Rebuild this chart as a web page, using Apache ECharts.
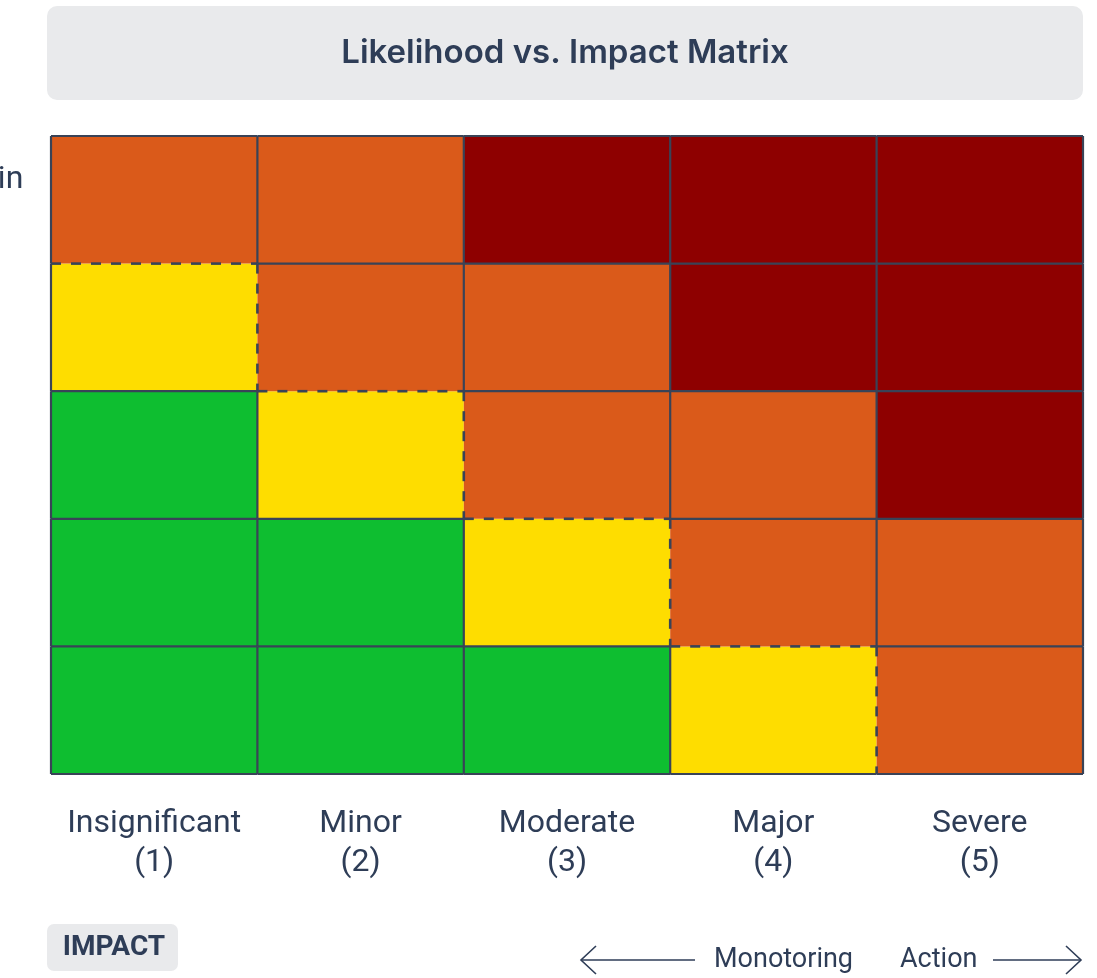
<!DOCTYPE html>
<html>
<head>
<meta charset="utf-8">
<script src="https://cdn.jsdelivr.net/npm/echarts@6/dist/echarts.min.js"></script>
<style>
html,body{margin:0;padding:0;background:#ffffff;}
#chart{width:1097px;height:978px;}
</style>
</head>
<body>
<div id="chart"></div>
<script>
const titleText = 'Likelihood vs. Impact Matrix';
const impactLabels = ['Insignificant\n(1)', 'Minor\n(2)', 'Moderate\n(3)', 'Major\n(4)', 'Severe\n(5)'];
const likelihoodLabels = ['Rare\n(1)', 'Unlikely\n(2)', 'Possible\n(3)', 'Likely\n(4)', 'Almost Certain\n(5)'];
const riskLevels = ['Low', 'Medium', 'High', 'Critical'];
const levelColors = ['#0ebe30', '#fedd00', '#da5a1a', '#8e0000'];
// risk level index per cell, one array per likelihood row (Rare -> Almost Certain)
const rowRare = [0, 0, 0, 1, 2];
const rowUnlikely = [0, 0, 1, 2, 2];
const rowPossible = [0, 1, 2, 2, 3];
const rowLikely = [1, 2, 2, 3, 3];
const rowAlmostCertain = [2, 2, 3, 3, 3];
const axisCaption = 'IMPACT';
const leftArrowText = 'Monotoring';
const rightArrowText = 'Action';

const rows = [rowRare, rowUnlikely, rowPossible, rowLikely, rowAlmostCertain];
const cells = [];
rows.forEach((r, y) => r.forEach((lvl, x) => cells.push([x, y, lvl])));
const levelAt = (x, y) => (rows[y] !== undefined && rows[y][x] !== undefined) ? rows[y][x] : -1;
const DASHED_LEVEL = 1;

const textColor = '#2e3d57';
const borderColor = '#394357';

const chart = echarts.init(document.getElementById('chart'), null, {renderer: 'canvas'});

function edge(x1, y1, x2, y2, dashed) {
  return {
    type: 'line',
    shape: {x1, y1, x2, y2},
    style: {stroke: borderColor, lineWidth: dashed ? 2.6 : 2.2, lineDash: dashed ? [10, 10] : null}
  };
}

chart.setOption({
  animation: false,
  grid: {left: 51, right: 14, top: 136, bottom: 204, containLabel: false, outerBoundsMode: 'none'},
  xAxis: {
    type: 'category',
    data: impactLabels,
    axisLine: {show: false},
    axisTick: {show: false},
    splitLine: {show: false},
    axisLabel: {
      color: textColor, fontFamily: 'Roboto', fontSize: 32, lineHeight: 39,
      margin: 30, align: 'center', interval: 0
    }
  },
  yAxis: {
    type: 'category',
    data: likelihoodLabels,
    axisLine: {show: false},
    axisTick: {show: false},
    splitLine: {show: false},
    axisLabel: {
      color: textColor, fontFamily: 'Roboto', fontSize: 32, lineHeight: 39,
      margin: 134, align: 'center', interval: 0
    }
  },
  series: [
    {
      type: 'custom',
      clip: false,
      z: 2,
      data: cells,
      renderItem: function (params, api) {
        const c = api.coord([api.value(0), api.value(1)]);
        const s = api.size([1, 1]);
        return {
          type: 'rect',
          shape: {x: c[0] - s[0] / 2, y: c[1] - s[1] / 2, width: s[0], height: s[1]},
          style: {fill: levelColors[api.value(2)]}
        };
      }
    },
    {
      type: 'custom',
      clip: false,
      z: 3,
      data: cells,
      renderItem: function (params, api) {
        const x = api.value(0), y = api.value(1);
        const c = api.coord([x, y]);
        const s = api.size([1, 1]);
        const l = c[0] - s[0] / 2, r = c[0] + s[0] / 2, t = c[1] - s[1] / 2, b = c[1] + s[1] / 2;
        const children = [];
        children.push(edge(l, t, l, b, levelAt(x - 1, y) === DASHED_LEVEL));
        children.push(edge(l, b, r, b, levelAt(x, y - 1) === DASHED_LEVEL));
        if (y === rows.length - 1) children.push(edge(l, t, r, t, false));
        if (x === rows[0].length - 1) children.push(edge(r, t, r, b, false));
        return {type: 'group', children};
      }
    }
  ],
  graphic: [
    {
      type: 'rect', left: 47, top: 6,
      shape: {width: 1036, height: 94, r: 10},
      style: {fill: '#e9eaec'}
    },
    {
      type: 'text', x: 565, y: 53,
      style: {
        text: titleText, fill: textColor, font: '600 33px Inter',
        textAlign: 'center', textVerticalAlign: 'middle'
      }
    },
    {
      type: 'rect', left: 47, top: 924,
      shape: {width: 131, height: 47, r: 7},
      style: {fill: '#e9eaec'}
    },
    {
      type: 'text', x: 114, y: 948,
      style: {
        text: axisCaption, fill: textColor, font: 'bold 28px Roboto',
        textAlign: 'center', textVerticalAlign: 'middle'
      }
    },
    {
      type: 'line', shape: {x1: 581, y1: 960, x2: 695, y2: 960},
      style: {stroke: textColor, lineWidth: 1.6}
    },
    {
      type: 'polyline', shape: {points: [[596, 946], [581, 960], [596, 974]]},
      style: {stroke: textColor, lineWidth: 1.6, fill: null}
    },
    {
      type: 'text', x: 714, y: 960,
      style: {
        text: leftArrowText, fill: textColor, font: '27px Roboto',
        textAlign: 'left', textVerticalAlign: 'middle'
      }
    },
    {
      type: 'text', x: 900, y: 960,
      style: {
        text: rightArrowText, fill: textColor, font: '27px Roboto',
        textAlign: 'left', textVerticalAlign: 'middle'
      }
    },
    {
      type: 'line', shape: {x1: 993, y1: 960, x2: 1081, y2: 960},
      style: {stroke: textColor, lineWidth: 1.6}
    },
    {
      type: 'polyline', shape: {points: [[1066, 946], [1081, 960], [1066, 974]]},
      style: {stroke: textColor, lineWidth: 1.6, fill: null}
    }
  ]
});
</script>
</body>
</html>
